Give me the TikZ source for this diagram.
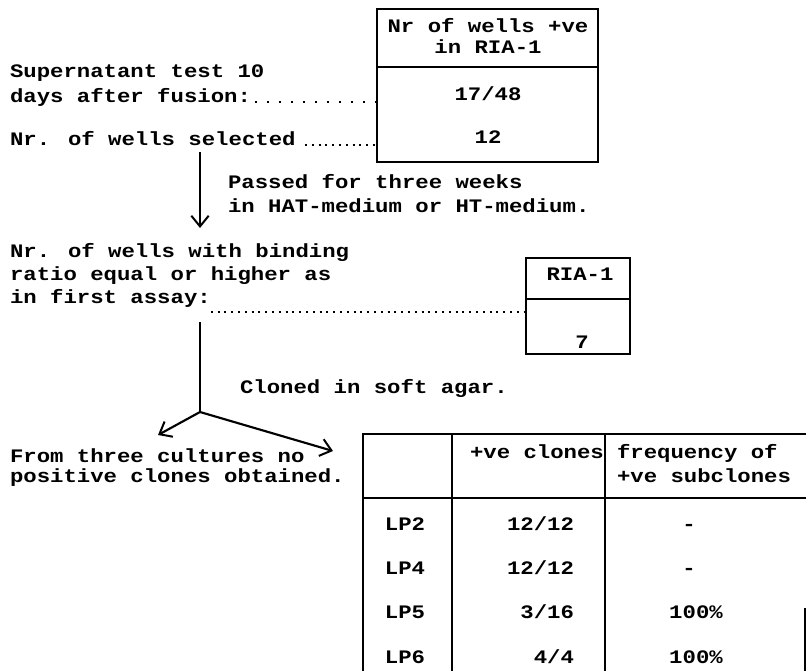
\documentclass[tikz,border=0pt]{standalone}
\usepackage{fontspec}
\setmainfont{Liberation Mono}[FakeStretch=1.17]
\usetikzlibrary{arrows.meta}
\newcommand\dgfont{\fontsize{14.3}{15}\selectfont\bfseries}
\begin{document}
\begin{tikzpicture}[x=0.75pt,y=-0.75pt,line width=1.5pt,
  every node/.style={inner sep=0pt,outer sep=0pt,font=\dgfont},
  txt/.style={anchor=base west},
  ctr/.style={anchor=base},
  rgt/.style={anchor=base east},
  box/.style={draw,rectangle,line width=1.6pt},
  wdots/.style={line width=1.8pt,dash pattern=on 1.8pt off 7.2pt},
  ndots/.style={line width=1.5pt,dash pattern=on 1.5pt off 3.6pt},
  flow/.style={-{Straight Barb[length=8pt,width=13pt,line width=1.5pt]},line width=1.6pt}]
\useasboundingbox (0,0) rectangle (806,671);
% top box
\node[box,minimum width=165.75pt,minimum height=114.75pt] (tbox) at (487.5,85.5) {};
\draw[line width=1.6pt] (tbox.west |- 0,67) -- (tbox.east |- 0,67);
\node[ctr] (th1) at (488,32) {Nr of wells +ve};
\node[ctr] (th2) at (488,53) {in RIA-1};
\node[ctr] (tv1) at (488,100) {17/48};
\node[ctr] (tv2) at (488,143) {12};
% left texts
\node[txt] (sup1) at (10,77) {Supernatant test 10};
\node[txt] (sup2) at (10,102) {days after fusion:};
\node[txt] (sel) at (10,145) {Nr. of wells selected};
\draw[wdots] ([xshift=3pt]sup2.base east) -- (tbox.west |- sup2.base);
\draw[ndots] ([xshift=7pt]sel.base east) -- (tbox.west |- sel.base);
% first arrow
\coordinate (a1s) at (200,152);
\coordinate (a1e) at (200,228);
\draw[flow] (a1s) -- (a1e);
\node[txt] (pas1) at (228,188) {Passed for three weeks};
\node[txt] (pas2) at (228,212) {in HAT-medium or HT-medium.};
% second block
\node[txt] (nw1) at (10,257) {Nr. of wells with binding};
\node[txt] (nw2) at (10,280) {ratio equal or higher as};
\node[txt] (nw3) at (10,303) {in first assay:};
\node[box,minimum width=78pt,minimum height=72pt] (rbox) at (578,306) {};
\draw[line width=1.6pt] (rbox.west |- 0,299) -- (rbox.east |- 0,299);
\node[ctr] (rh) at (580,280) {RIA-1};
\node[ctr] (rv) at (582,348) {7};
\draw[ndots] ([yshift=-6.75pt]nw3.base east) -- (rbox.west |- 0,312);
% branch
\coordinate (b0) at (200,322);
\coordinate (br) at (200,412);
\coordinate (bl) at (158,435);
\coordinate (brr) at (333,451);
\draw[line width=1.6pt] (b0) -- (br);
\draw[flow] (br) -- (bl);
\draw[flow] (br) -- (brr);
\node[txt] (clo) at (240,393) {Cloned in soft agar.};
\node[txt] (fr1) at (10,462) {From three cultures no};
\node[txt] (fr2) at (10,482) {positive clones obtained.};
% table
\coordinate (tl) at (363,434);
\coordinate (tr) at (806,434);
\draw[line width=1.6pt] (363,671) -- (tl) -- (tr);
\draw[line width=1.6pt] (452,434) -- (452,671);
\draw[line width=1.6pt] (605,434) -- (605,671);
\draw[line width=1.8pt] (363,498) -- (806,498);
\draw[line width=1.6pt] (805,608) -- (805,671);
\node[txt] (hc) at (470,458) {+ve clones};
\node[txt] (hf1) at (617,458) {frequency of};
\node[txt] (hf2) at (617,482) {+ve subclones};
\node[ctr] (lp2) at (405,530) {LP2};
\node[ctr] (lp4) at (405,574) {LP4};
\node[ctr] (lp5) at (405,618) {LP5};
\node[ctr] (lp6) at (405,663) {LP6};
\node[rgt] (c2) at (574,530) {12/12};
\node[rgt] (c4) at (574,574) {12/12};
\node[rgt] (c5) at (574,618) {3/16};
\node[rgt] (c6) at (574,663) {4/4};
\node[ctr] (f2) at (689,530) {-};
\node[ctr] (f4) at (689,574) {-};
\node[ctr] (f5) at (696,618) {100\%};
\node[ctr] (f6) at (696,663) {100\%};
\end{tikzpicture}
\end{document}
